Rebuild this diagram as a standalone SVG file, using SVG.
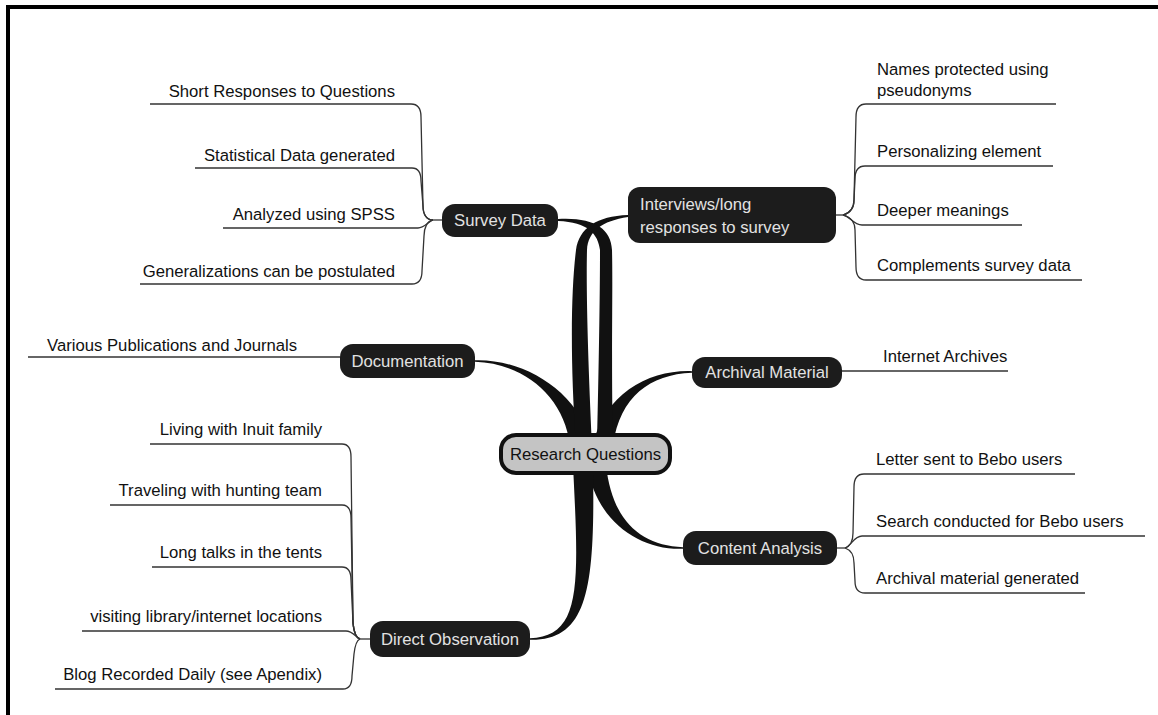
<svg xmlns="http://www.w3.org/2000/svg" width="1158" height="715" viewBox="0 0 1158 715">
<style>
.leaf{font-family:"Liberation Sans",Arial,sans-serif;font-size:16.7px;fill:#111}
.node rect{fill:#1c1c1c}
.ntext{font-family:"Liberation Sans",Arial,sans-serif;font-size:16.7px;fill:#e2e2e2}
.ln{fill:none;stroke:#333;stroke-width:1.3}
.strand{fill:#111}
</style>
<rect width="1158" height="715" fill="#fff"/>
<g id="frame">
<line x1="6" y1="7" x2="1158" y2="7" stroke="#000" stroke-width="4"/>
<line x1="8" y1="5" x2="8" y2="715" stroke="#000" stroke-width="4"/>
</g>
<g id="connectors">
<path class="strand" d="M 592 445 C 580 393, 525 358.5, 475 360.2 L 475 361.8 C 525 363.5, 564 397, 570 445 Z"/>
<path class="strand" d="M 593 445 C 604 393.6, 650 369.5, 692 371.2 L 692 372.8 C 650 374.5, 620 396.4, 613 445 Z"/>
<path class="strand" d="M 576 445 C 570 360, 571 290, 576 250 C 579 228, 597 216, 628 215 L 628 217 C 602 221, 588 231, 587 250 C 586 290, 588 360, 592 445 Z"/>
<path class="strand" d="M 597 445 C 599 360, 600 290, 600 250 C 598 234, 588 222, 558 221 L 558 219 C 593 217, 611 228, 612 250 C 613 290, 611 360, 613 445 Z"/>
<path class="strand" d="M 587 465 C 596 522, 640 550.5, 683 548.8 L 683 547.2 C 640 545.5, 612 520, 606 465 Z"/>
<path class="strand" d="M 573 465 C 579 586, 582 636, 530 638.2 L 530 639.8 C 589 641, 595 586, 593 465 Z"/>
<!-- Survey Data leaves -->
<path class="ln" d="M 150 104 H 411 C 418 104, 421 109, 421 117 L 423 206 C 423 215, 427 220, 433 220"/>
<path class="ln" d="M 195 168 H 412 C 419 168, 421 173, 421 181 L 423 206 C 423 215, 427 220, 433 220"/>
<path class="ln" d="M 223 228 H 418 C 424 228, 428 222, 433 220"/>
<path class="ln" d="M 140 284 H 412 C 419 284, 422 279, 422 271 L 424 236 C 424 228, 427 221, 433 220"/>
<path class="ln" d="M 433 220 H 442"/>
<!-- Interviews leaves -->
<path class="ln" d="M 836 215 H 843"/>
<path class="ln" d="M 843 215 C 850 213, 854 208, 854 200 L 856 117 C 856 108, 859 104, 866 104 H 1056"/>
<path class="ln" d="M 843 215 C 850 213, 854 208, 854 200 L 855 179 C 855 170, 858 166, 865 166 H 1053"/>
<path class="ln" d="M 843 215 C 850 216, 853 225, 862 225 H 1022"/>
<path class="ln" d="M 843 215 C 850 217, 855 222, 855 230 L 856 267 C 856 276, 859 280, 866 280 H 1082"/>
<!-- Documentation leaf -->
<path class="ln" d="M 28 357 H 340"/>
<!-- Archival leaf -->
<path class="ln" d="M 842 371 H 1008"/>
<!-- Content Analysis leaves -->
<path class="ln" d="M 837 548 H 845"/>
<path class="ln" d="M 845 548 C 851 546, 853 541, 853 533 L 854 487 C 854 478, 857 474, 864 474 H 1075"/>
<path class="ln" d="M 845 548 C 851 546, 854 536, 862 536 H 1145"/>
<path class="ln" d="M 845 548 C 851 550, 854 555, 854 563 L 855 581 C 855 589, 858 593, 865 593 H 1085"/>
<!-- Direct Observation leaves -->
<path class="ln" d="M 150 444 H 342 C 349 444, 351 449, 351 457 L 353 623 C 354 633, 356 638, 360 639"/>
<path class="ln" d="M 110 505 H 342 C 349 505, 351 510, 351 518 L 353 623 C 354 633, 356 638, 360 639"/>
<path class="ln" d="M 152 567 H 342 C 349 567, 351 572, 351 580 L 353 623 C 354 633, 356 638, 360 639"/>
<path class="ln" d="M 82 631 H 346 C 352 631, 355 636, 360 639"/>
<path class="ln" d="M 55 689 H 343 C 350 689, 352 684, 352 676 L 354 654 C 355 645, 357 640, 360 639"/>
<path class="ln" d="M 360 639 H 370"/>
</g>
<g id="n-research" class="node">
<rect x="501" y="435" width="169" height="38" rx="15" stroke="#111" stroke-width="4" style="fill:#c4c4c4"/>
<text x="585.5" y="460" text-anchor="middle" font-family="Liberation Sans, Arial, sans-serif" font-size="16.7" fill="#111">Research Questions</text>
</g>
<g id="n-survey" class="node">
<rect x="442" y="204" width="116" height="33" rx="13"/>
<text class="ntext" x="500" y="226" text-anchor="middle">Survey Data</text>
</g>
<g id="n-interviews" class="node">
<rect x="628" y="187" width="208" height="56" rx="12"/>
<text class="ntext" x="640" y="210">Interviews/long</text>
<text class="ntext" x="640" y="233">responses to survey</text>
</g>
<g id="n-documentation" class="node">
<rect x="340" y="344" width="135" height="34" rx="13"/>
<text class="ntext" x="407.5" y="367" text-anchor="middle">Documentation</text>
</g>
<g id="n-archival" class="node">
<rect x="692" y="357" width="150" height="31" rx="13"/>
<text class="ntext" x="767" y="378" text-anchor="middle">Archival Material</text>
</g>
<g id="n-content" class="node">
<rect x="683" y="531" width="154" height="34" rx="13"/>
<text class="ntext" x="760" y="554" text-anchor="middle">Content Analysis</text>
</g>
<g id="n-direct" class="node">
<rect x="370" y="621" width="160" height="36" rx="13"/>
<text class="ntext" x="450" y="645" text-anchor="middle">Direct Observation</text>
</g>
<g id="leaves-survey">
<text class="leaf" x="395" y="97" text-anchor="end">Short Responses to Questions</text>
<text class="leaf" x="395" y="161" text-anchor="end">Statistical Data generated</text>
<text class="leaf" x="395" y="220" text-anchor="end">Analyzed using SPSS</text>
<text class="leaf" x="395" y="277" text-anchor="end">Generalizations can be postulated</text>
</g>
<g id="leaves-interviews">
<text class="leaf" x="877" y="75">Names protected using</text>
<text class="leaf" x="877" y="96">pseudonyms</text>
<text class="leaf" x="877" y="157">Personalizing element</text>
<text class="leaf" x="877" y="216">Deeper meanings</text>
<text class="leaf" x="877" y="271">Complements survey data</text>
</g>
<g id="leaves-documentation">
<text class="leaf" x="47" y="351">Various Publications and Journals</text>
</g>
<g id="leaves-archival">
<text class="leaf" x="883" y="362">Internet Archives</text>
</g>
<g id="leaves-content">
<text class="leaf" x="876" y="465">Letter sent to Bebo users</text>
<text class="leaf" x="876" y="527">Search conducted for Bebo users</text>
<text class="leaf" x="876" y="584">Archival material generated</text>
</g>
<g id="leaves-direct">
<text class="leaf" x="322" y="435" text-anchor="end">Living with Inuit family</text>
<text class="leaf" x="322" y="496" text-anchor="end">Traveling with hunting team</text>
<text class="leaf" x="322" y="558" text-anchor="end">Long talks in the tents</text>
<text class="leaf" x="322" y="622" text-anchor="end">visiting library/internet locations</text>
<text class="leaf" x="322" y="680" text-anchor="end">Blog Recorded Daily (see Apendix)</text>
</g>
</svg>
